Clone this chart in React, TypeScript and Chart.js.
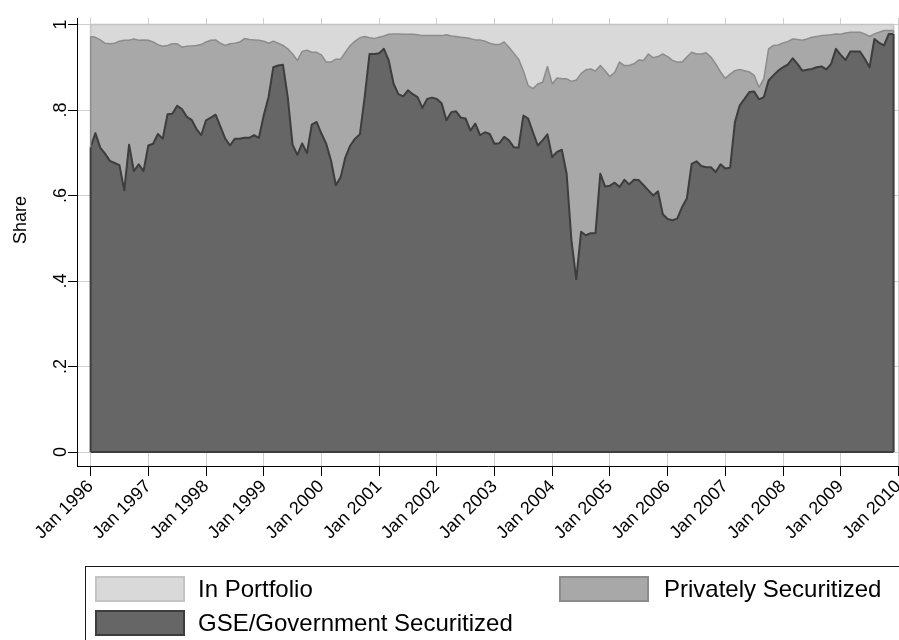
import React, { useEffect, useRef } from "react";
import { Chart, registerables } from "chart.js";

Chart.register(...registerables);

// Monthly shares, Jan 1996 .. Dec 2009 (one row per year)
const gseShare = [
  0.713, 0.746, 0.712, 0.698, 0.681, 0.676, 0.671, 0.612, 0.719, 0.657, 0.673, 0.657,
  0.717, 0.721, 0.744, 0.733, 0.790, 0.791, 0.810, 0.802, 0.784, 0.777, 0.756, 0.741,
  0.776, 0.782, 0.789, 0.761, 0.733, 0.717, 0.733, 0.733, 0.735, 0.735, 0.741, 0.735,
  0.787, 0.830, 0.900, 0.904, 0.906, 0.830, 0.719, 0.695, 0.722, 0.699, 0.766, 0.772,
  0.745, 0.721, 0.682, 0.624, 0.643, 0.690, 0.717, 0.733, 0.743, 0.830, 0.931, 0.931,
  0.933, 0.943, 0.916, 0.862, 0.837, 0.832, 0.846, 0.837, 0.830, 0.805, 0.826, 0.829,
  0.826, 0.816, 0.776, 0.795, 0.797, 0.782, 0.780, 0.752, 0.768, 0.741, 0.748, 0.744,
  0.721, 0.722, 0.737, 0.729, 0.713, 0.712, 0.787, 0.780, 0.748, 0.717, 0.729, 0.743,
  0.690, 0.702, 0.707, 0.651, 0.495, 0.404, 0.515, 0.507, 0.512, 0.512, 0.651, 0.621,
  0.623, 0.630, 0.620, 0.637, 0.626, 0.637, 0.636, 0.624, 0.612, 0.600, 0.610, 0.556,
  0.545, 0.542, 0.546, 0.573, 0.593, 0.674, 0.680, 0.669, 0.666, 0.666, 0.655, 0.673,
  0.663, 0.665, 0.772, 0.811, 0.826, 0.842, 0.843, 0.825, 0.830, 0.869, 0.881, 0.892,
  0.900, 0.906, 0.921, 0.908, 0.892, 0.894, 0.896, 0.900, 0.902, 0.895, 0.908, 0.943,
  0.929, 0.917, 0.937, 0.937, 0.937, 0.920, 0.900, 0.966, 0.957, 0.951, 0.978, 0.978,
];

// GSE + privately securitized (top of the "Privately Securitized" band)
const securitizedTotal = [
  0.972, 0.970, 0.964, 0.956, 0.955, 0.956, 0.961, 0.963, 0.963, 0.966, 0.963, 0.964,
  0.963, 0.959, 0.953, 0.949, 0.951, 0.955, 0.955, 0.947, 0.949, 0.950, 0.951, 0.953,
  0.959, 0.963, 0.964, 0.956, 0.951, 0.955, 0.956, 0.959, 0.967, 0.965, 0.964, 0.963,
  0.961, 0.956, 0.961, 0.956, 0.951, 0.943, 0.931, 0.916, 0.937, 0.940, 0.935, 0.935,
  0.929, 0.912, 0.912, 0.919, 0.919, 0.935, 0.951, 0.961, 0.969, 0.972, 0.969, 0.967,
  0.970, 0.973, 0.977, 0.978, 0.978, 0.977, 0.977, 0.977, 0.976, 0.974, 0.974, 0.974,
  0.974, 0.974, 0.976, 0.973, 0.972, 0.970, 0.969, 0.967, 0.964, 0.964, 0.961, 0.956,
  0.953, 0.953, 0.959, 0.947, 0.933, 0.919, 0.892, 0.857, 0.850, 0.861, 0.865, 0.902,
  0.861, 0.875, 0.873, 0.873, 0.867, 0.870, 0.885, 0.894, 0.896, 0.891, 0.904, 0.892,
  0.878, 0.888, 0.912, 0.904, 0.904, 0.908, 0.917, 0.916, 0.931, 0.922, 0.925, 0.931,
  0.925, 0.916, 0.912, 0.912, 0.924, 0.935, 0.931, 0.931, 0.934, 0.924, 0.908, 0.889,
  0.874, 0.884, 0.892, 0.895, 0.892, 0.889, 0.881, 0.853, 0.873, 0.943, 0.951, 0.952,
  0.957, 0.960, 0.966, 0.965, 0.963, 0.966, 0.970, 0.972, 0.974, 0.975, 0.976, 0.978,
  0.977, 0.980, 0.982, 0.982, 0.982, 0.978, 0.972, 0.978, 0.982, 0.986, 0.986, 0.986,
];

// In portfolio fills the remainder up to 1
const portfolioTop = gseShare.map(() => 1);

const yearTickMonths = [0, 12, 24, 36, 48, 60, 72, 84, 96, 108, 120, 132, 144, 156, 168];
const yearTickLabels = [
  "Jan 1996", "Jan 1997", "Jan 1998", "Jan 1999", "Jan 2000", "Jan 2001", "Jan 2002",
  "Jan 2003", "Jan 2004", "Jan 2005", "Jan 2006", "Jan 2007", "Jan 2008", "Jan 2009", "Jan 2010",
];
const yTickValues = [0, 0.2, 0.4, 0.6, 0.8, 1];
const yTickLabels = ["0", ".2", ".4", ".6", ".8", "1"];
const seriesNames = ["In Portfolio", "Privately Securitized", "GSE/Government Securitized"];
const yTitle = "Share";

const FONT = '"Liberation Sans", Arial, Helvetica, sans-serif';
const COL = {
  portfolio: { fill: "#d9d9d9", line: "#c4c4c4" },
  priv: { fill: "#a8a8a8", line: "#8c8c8c" },
  gse: { fill: "#666666", line: "#3d3d3d" },
};

const decorPlugin = {
  id: "decor",
  afterDatasetsDraw(chart: any) {
    const { ctx, scales } = chart;
    const x = scales.x;
    const y = scales.y;
    const n = gseShare.length;
    const xs = [x.getPixelForValue(0), x.getPixelForValue(n - 1)];
    const idx = [0, n - 1];
    ctx.save();
    ctx.lineCap = "butt";
    const seg = (x1: number, y1: number, x2: number, y2: number, c: string, w: number) => {
      ctx.beginPath();
      ctx.strokeStyle = c;
      ctx.lineWidth = w;
      ctx.moveTo(x1, y1);
      ctx.lineTo(x2, y2);
      ctx.stroke();
    };
    xs.forEach((xp, k) => {
      const i = idx[k];
      seg(xp, y.getPixelForValue(portfolioTop[i]), xp, y.getPixelForValue(securitizedTotal[i]), COL.portfolio.line, 1.5);
      seg(xp, y.getPixelForValue(securitizedTotal[i]), xp, y.getPixelForValue(gseShare[i]), COL.priv.line, 1.5);
      seg(xp, y.getPixelForValue(gseShare[i]), xp, y.getPixelForValue(0), COL.gse.line, 2);
    });
    seg(xs[0], y.getPixelForValue(0), xs[1], y.getPixelForValue(0), COL.gse.line, 2);
    ctx.restore();
  },
  afterDraw(chart: any) {
    const { ctx, scales } = chart;
    const y = scales.y;
    ctx.save();
    ctx.fillStyle = "#000";
    ctx.font = `18px ${FONT}`;
    ctx.textAlign = "center";
    ctx.textBaseline = "middle";
    yTickValues.forEach((v, i) => {
      ctx.save();
      ctx.translate(61, y.getPixelForValue(v));
      ctx.rotate(-Math.PI / 2);
      ctx.fillText(yTickLabels[i], 0, 0);
      ctx.restore();
    });
    ctx.save();
    ctx.translate(21, 220);
    ctx.rotate(-Math.PI / 2);
    ctx.fillText(yTitle, 0, 0);
    ctx.restore();
    ctx.restore();
  },
};

export default function App() {
  const ref = useRef<HTMLCanvasElement>(null);

  useEffect(() => {
    const canvas = ref.current;
    if (!canvas) return;
    const pts = (vals: number[]) => vals.map((v, i) => ({ x: i, y: v }));
    const chart = new Chart(canvas, {
      type: "line",
      data: {
        datasets: [
          {
            label: seriesNames[2],
            data: pts(gseShare),
            fill: "origin",
            backgroundColor: COL.gse.fill,
            borderColor: COL.gse.line,
            borderWidth: 2,
            pointRadius: 0,
            tension: 0,
          },
          {
            label: seriesNames[1],
            data: pts(securitizedTotal),
            fill: "origin",
            backgroundColor: COL.priv.fill,
            borderColor: COL.priv.line,
            borderWidth: 1.5,
            pointRadius: 0,
            tension: 0,
          },
          {
            label: seriesNames[0],
            data: pts(portfolioTop),
            fill: "origin",
            backgroundColor: COL.portfolio.fill,
            borderColor: COL.portfolio.line,
            borderWidth: 1.5,
            pointRadius: 0,
            tension: 0,
          },
        ],
      } as any,
      options: {
        responsive: false,
        animation: false,
        devicePixelRatio: 1,
        layout: { padding: { top: 18, bottom: 54, left: 0, right: 0 } },
        plugins: { legend: { display: false }, tooltip: { enabled: false } },
        elements: { line: { borderJoinStyle: "round" } },
        scales: {
          x: {
            type: "linear",
            min: -2.83,
            max: 168.12,
            afterBuildTicks: (s: any) => {
              s.ticks = yearTickMonths.map((v) => ({ value: v }));
            },
            afterFit: (s: any) => {
              s.height = 120;
              s.paddingLeft = 0;
              s.paddingRight = 0;
            },
            ticks: {
              autoSkip: false,
              minRotation: 45,
              maxRotation: 45,
              padding: 0,
              color: "#000",
              font: { family: FONT, size: 18 },
              callback: (_v: any, i: number) => yearTickLabels[i],
            },
            grid: { color: "#cfcfcf", lineWidth: 1, tickColor: "#000", tickLength: 10, drawTicks: true },
            border: { display: true, color: "#000", width: 1 },
          },
          y: {
            type: "linear",
            min: -0.0327,
            max: 1.0152,
            afterBuildTicks: (s: any) => {
              s.ticks = yTickValues.map((v) => ({ value: v }));
            },
            afterFit: (s: any) => {
              s.width = 77;
              s.paddingTop = 0;
              s.paddingBottom = 0;
            },
            ticks: { display: false },
            grid: { color: "#cfcfcf", lineWidth: 1, tickColor: "#000", tickLength: 9, drawTicks: true },
            border: { display: true, color: "#000", width: 1 },
          },
        },
      } as any,
      plugins: [decorPlugin],
    });
    return () => chart.destroy();
  }, []);

  const textStyle = (left: number, top: number): React.CSSProperties => ({
    position: "absolute",
    left,
    top,
    fontFamily: FONT,
    fontSize: 24,
    lineHeight: "28px",
    color: "#000",
    whiteSpace: "nowrap",
  });
  const swatch = (left: number, top: number, fill: string, line: string): React.CSSProperties => ({
    position: "absolute",
    left,
    top,
    width: 90,
    height: 26,
    boxSizing: "border-box",
    background: fill,
    border: `2px solid ${line}`,
  });

  return (
    <div
      style={{
        position: "fixed",
        left: 0,
        top: 0,
        width: 899,
        height: 640,
        overflow: "hidden",
        background: "#fff",
      }}
    >
      <canvas ref={ref} width={899} height={640} style={{ position: "absolute", left: 0, top: 0, width: 899, height: 640 }} />
      <div
        style={{
          position: "absolute",
          left: 85,
          top: 566,
          width: 900,
          height: 100,
          boxSizing: "border-box",
          border: "1px solid #1a1a1a",
        }}
      />
      <div style={swatch(95, 576, COL.portfolio.fill, COL.portfolio.line)} />
      <div style={textStyle(198, 575)}>{seriesNames[0]}</div>
      <div style={swatch(559, 576, COL.priv.fill, COL.priv.line)} />
      <div style={textStyle(664, 575)}>{seriesNames[1]}</div>
      <div style={swatch(95, 610, COL.gse.fill, COL.gse.line)} />
      <div style={textStyle(198, 609)}>{seriesNames[2]}</div>
    </div>
  );
}
